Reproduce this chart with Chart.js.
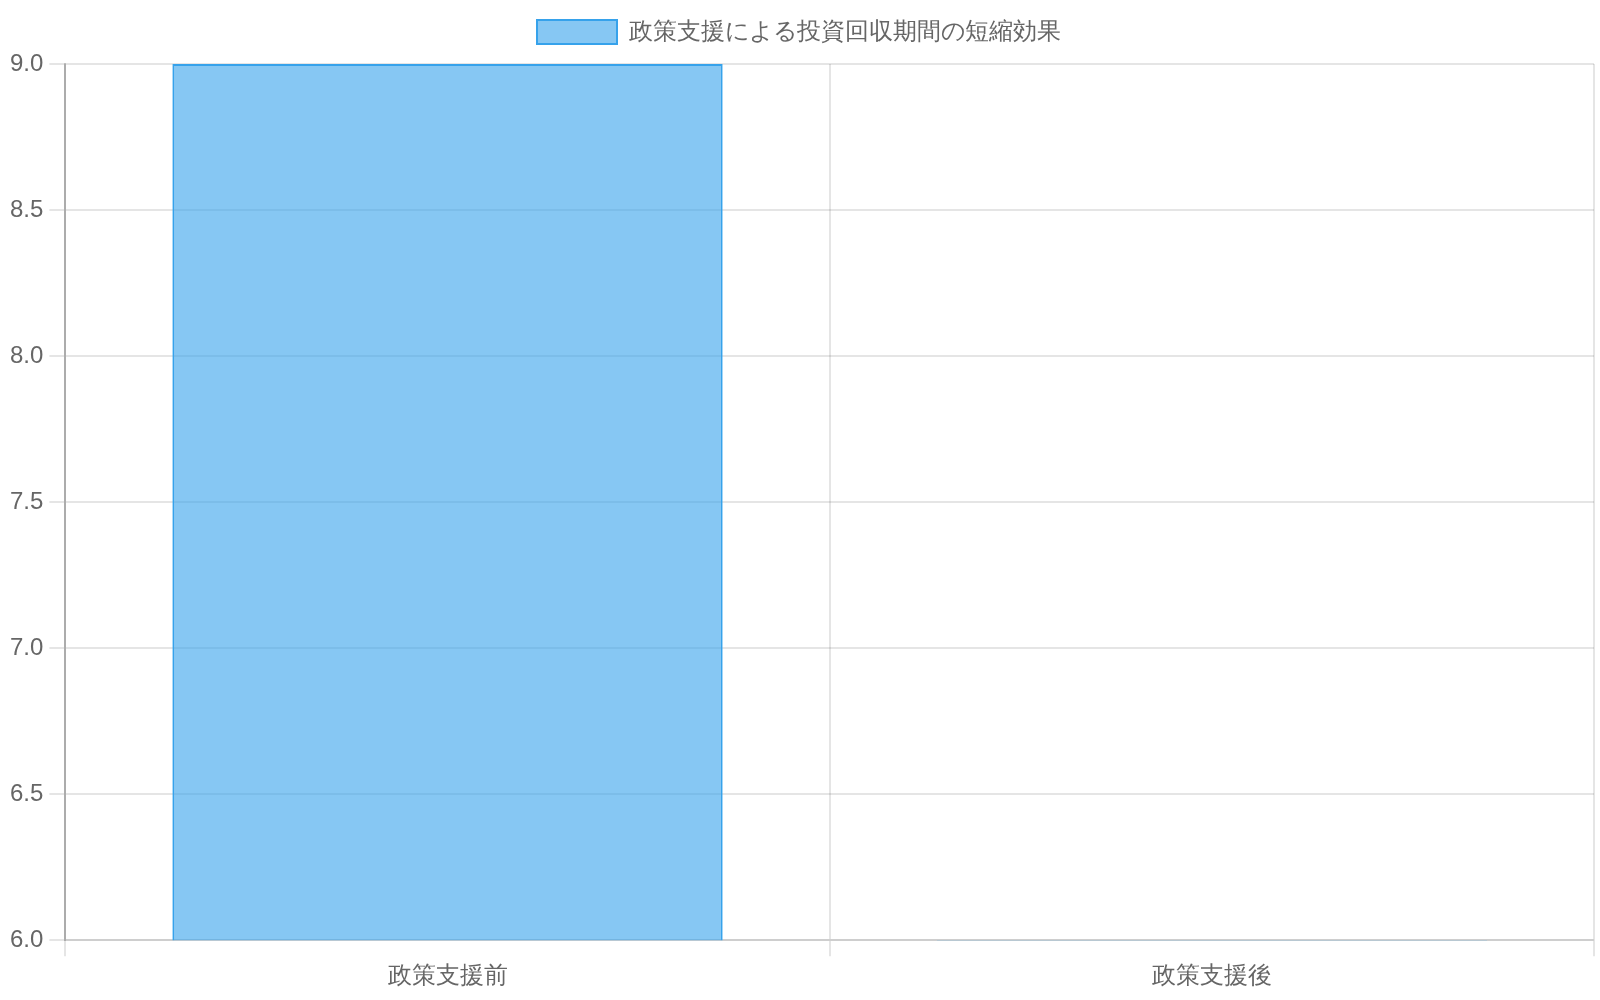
<!DOCTYPE html>
<html>
<head>
<meta charset="utf-8">
<script src="https://cdn.jsdelivr.net/npm/chart.js@4/dist/chart.umd.min.js"></script>
<style>
  html, body { margin: 0; padding: 0; background: #fff; overflow: hidden; }
  #wrap { position: absolute; left: 0; top: 0; width: 800px; height: 500px; transform: scale(2); transform-origin: 0 0; }
</style>
</head>
<body>
<div id="wrap"><canvas id="c"></canvas></div>
<script>
const categories = ['政策支援前', '政策支援後'];
const seriesLabel = '政策支援による投資回収期間の短縮効果';
const paybackYears = [9, 6];

new Chart(document.getElementById('c'), {
  type: 'bar',
  data: {
    labels: categories,
    datasets: [{
      label: seriesLabel,
      data: paybackYears,
      backgroundColor: 'rgba(54, 162, 235, 0.6)',
      borderColor: 'rgba(54, 162, 235, 1)',
      borderWidth: 1
    }]
  },
  options: {
    responsive: true,
    maintainAspectRatio: false,
    devicePixelRatio: 2,
    animation: false,
    layout: { padding: { left: 2, right: 3, top: 0, bottom: 1.5 } },
    plugins: { legend: { display: true } },
    scales: {
      y: { beginAtZero: false, border: { color: 'rgba(0,0,0,0.25)' } }
    }
  }
});
</script>
</body>
</html>
